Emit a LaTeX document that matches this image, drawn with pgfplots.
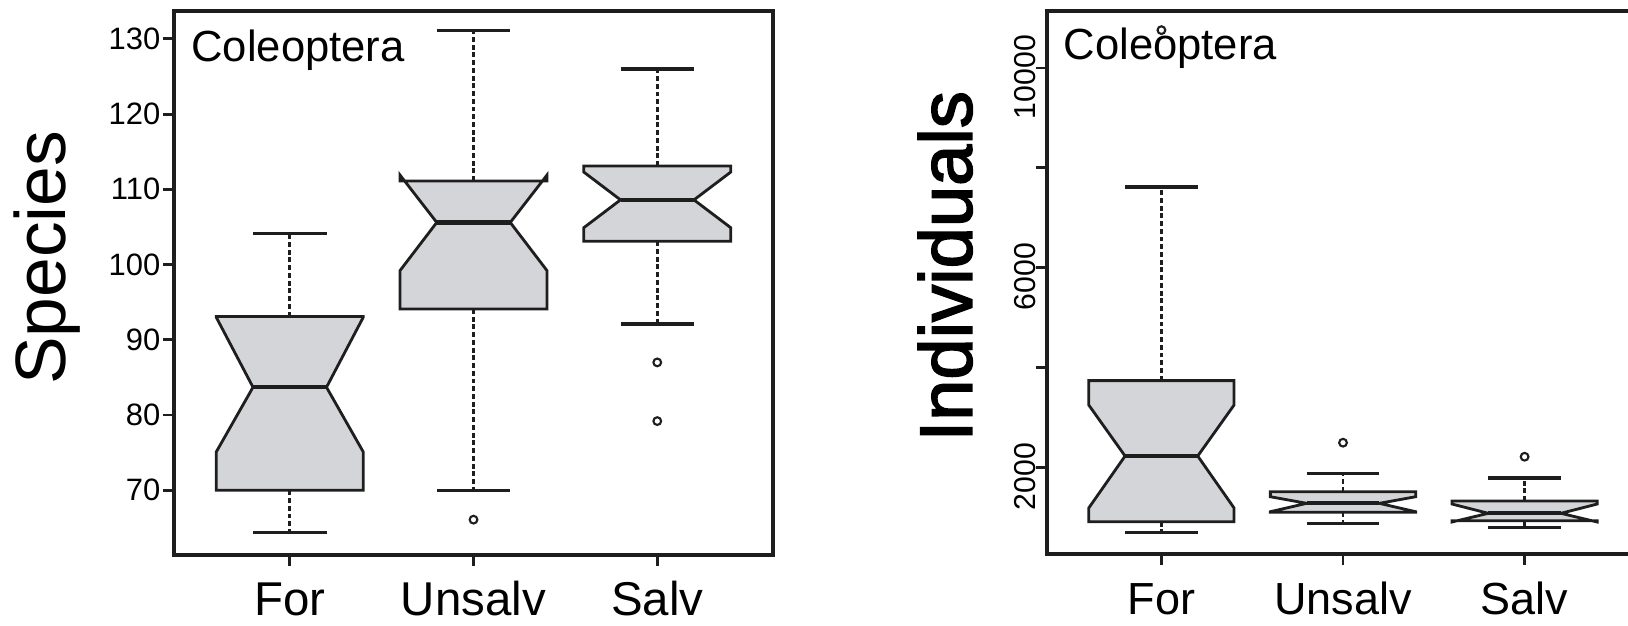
\documentclass[border=0pt]{standalone}
\usepackage{pgfplots}
\pgfplotsset{compat=1.18}
\usepackage{fontspec}
\setmainfont{Liberation Sans}
\newfontfamily\heavyfont[FakeBold=2.2]{Liberation Sans}
\definecolor{boxfill}{RGB}{212,213,216}
\definecolor{ink}{RGB}{30,30,30}
\begin{document}
\begin{tikzpicture}
\pgfplotsset{
  rbox/.style={
    scale only axis,
    axis line style={line width=1.0pt, ink},
    tick style={line width=0.8pt, ink},
    tick align=outside, major tick length=0.11cm,
    xtick pos=bottom, ytick pos=left,
    xmin=0.37, xmax=3.63,
    xtick={1,2,3}, xticklabels={For,Unsalv,Salv},
    minor tick num=0,
    scaled y ticks=false,
    ylabel style={anchor=center},
  },
  notchbox/.style={fill=boxfill, draw=ink, line width=0.8pt},
  med/.style={draw=ink, line width=1.2pt},
  whisk/.style={draw=ink, line width=0.75pt, dash pattern=on 1.4pt off 0.8pt},
  cap/.style={draw=ink, line width=0.9pt},
  outl/.style={only marks, mark=o, mark size=1.1pt, mark options={draw=ink, line width=0.6pt, solid}},
}
% ---------------- left panel: Species ----------------
\begin{axis}[rbox,
  at={(1.74cm,0.70cm)}, anchor=south west,
  width=5.99cm, height=5.44cm,
  ymin=61.4, ymax=133.7,
  ytick={70,80,...,130},
  /pgf/number format/assume math mode=true,
  yticklabel style={font=\fontsize{8.8}{10}\selectfont, anchor=east, inner sep=0pt, xshift=-0.02cm},
  xticklabel style={font=\fontsize{13.5}{16}\selectfont, anchor=base, yshift=-0.49cm},
  ylabel={Species},
  ylabel style={font=\fontsize{20.3}{24}\selectfont, at={(axis description cs:-0.212,0.546)}},
]
% For
\addplot[whisk] coordinates {(1,93.1) (1,104.1)};
\addplot[whisk] coordinates {(1,70.0) (1,64.4)};
\addplot[cap] coordinates {(0.8,104.1) (1.2,104.1)};
\addplot[cap] coordinates {(0.8,64.4) (1.2,64.4)};
\addplot[notchbox] coordinates {(0.6,70.0) (0.6,75.1) (0.8,83.7) (0.6,93.0) (0.6,93.1) (1.4,93.1) (1.4,93.0) (1.2,83.7) (1.4,75.1) (1.4,70.0)} -- cycle;
\addplot[med] coordinates {(0.8,83.7) (1.2,83.7)};
% Unsalv
\addplot[whisk] coordinates {(2,111.1) (2,131.1)};
\addplot[whisk] coordinates {(2,94.1) (2,70.0)};
\addplot[cap] coordinates {(1.8,131.1) (2.2,131.1)};
\addplot[cap] coordinates {(1.8,70.0) (2.2,70.0)};
\addplot[notchbox] coordinates {(1.6,94.1) (1.6,99.2) (1.8,105.6) (1.6,111.9) (1.6,111.1) (2.4,111.1) (2.4,111.9) (2.2,105.6) (2.4,99.2) (2.4,94.1)} -- cycle;
\addplot[med] coordinates {(1.8,105.6) (2.2,105.6)};
\addplot[outl] coordinates {(2,66.1)};
% Salv
\addplot[whisk] coordinates {(3,113.1) (3,126.0)};
\addplot[whisk] coordinates {(3,103.1) (3,92.1)};
\addplot[cap] coordinates {(2.8,126.0) (3.2,126.0)};
\addplot[cap] coordinates {(2.8,92.1) (3.2,92.1)};
\addplot[notchbox] coordinates {(2.6,103.1) (2.6,104.9) (2.8,108.6) (2.6,112.3) (2.6,113.1) (3.4,113.1) (3.4,112.3) (3.2,108.6) (3.4,104.9) (3.4,103.1)} -- cycle;
\addplot[med] coordinates {(2.8,108.6) (3.2,108.6)};
\addplot[outl] coordinates {(3,87.0) (3,79.2)};
\node[anchor=base west, font=\fontsize{12.4}{15}\selectfont, inner sep=0pt] at (axis description cs:0.028,0.908) {Coleoptera};
\end{axis}
% ---------------- right panel: Individuals ----------------
\begin{axis}[rbox,
  at={(10.47cm,0.71cm)}, anchor=south west,
  width=5.92cm, height=5.43cm,
  ymin=268, ymax=11141,
  ytick={2000,4000,6000,8000,10000},
  yticklabels={2000,,6000,,10000},
  yticklabel style={font=\fontsize{8.6}{10}\selectfont, rotate=90, anchor=south, inner sep=0pt, xshift=-0.09cm},
  xticklabel style={font=\fontsize{12.8}{15}\selectfont, anchor=base, yshift=-0.49cm},
  ylabel={Individuals},
  ylabel style={font=\heavyfont\fontsize{21.1}{25}\selectfont, at={(axis description cs:-0.172,0.53)}},
]
% For
\addplot[whisk] coordinates {(1,3740) (1,7616)};
\addplot[whisk] coordinates {(1,915) (1,695)};
\addplot[cap] coordinates {(0.8,7616) (1.2,7616)};
\addplot[cap] coordinates {(0.8,695) (1.2,695)};
\addplot[notchbox] coordinates {(0.6,915) (0.6,1190) (0.8,2230) (0.6,3251) (0.6,3740) (1.4,3740) (1.4,3251) (1.2,2230) (1.4,1190) (1.4,915)} -- cycle;
\addplot[med] coordinates {(0.8,2230) (1.2,2230)};
\addplot[outl] coordinates {(1,10758)};
% Unsalv
\addplot[whisk] coordinates {(2,1516) (2,1884)};
\addplot[whisk] coordinates {(2,1103) (2,883)};
\addplot[cap] coordinates {(1.8,1884) (2.2,1884)};
\addplot[cap] coordinates {(1.8,883) (2.2,883)};
\addplot[notchbox] coordinates {(1.6,1103) (1.6,1115) (1.8,1283) (1.6,1415) (1.6,1516) (2.4,1516) (2.4,1415) (2.2,1283) (2.4,1115) (2.4,1103)} -- cycle;
\addplot[med] coordinates {(1.8,1283) (2.2,1283)};
\addplot[outl] coordinates {(2,2497)};
% Salv
\addplot[whisk] coordinates {(3,1329) (3,1790)};
\addplot[whisk] coordinates {(3,935) (3,795)};
\addplot[cap] coordinates {(2.8,1790) (3.2,1790)};
\addplot[cap] coordinates {(2.8,795) (3.2,795)};
\addplot[notchbox] coordinates {(2.6,935) (2.6,909) (2.8,1083) (2.6,1269) (2.6,1329) (3.4,1329) (3.4,1269) (3.2,1083) (3.4,909) (3.4,935)} -- cycle;
\addplot[med] coordinates {(2.8,1083) (3.2,1083)};
\addplot[outl] coordinates {(3,2216)};
\node[anchor=base west, font=\fontsize{12.4}{15}\selectfont, inner sep=0pt] at (axis description cs:0.027,0.91) {Coleoptera};
\end{axis}
\pgfresetboundingbox
\path[use as bounding box] (0,0) rectangle (16.28,6.25);
\end{tikzpicture}
\end{document}
